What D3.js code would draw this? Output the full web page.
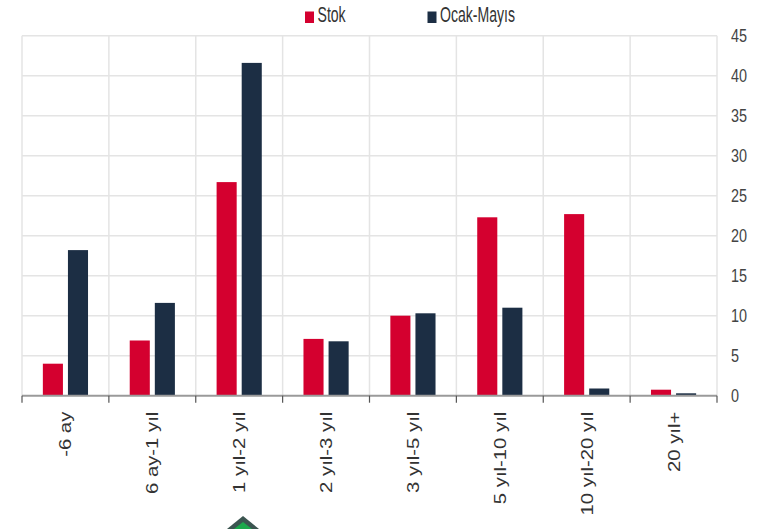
<!DOCTYPE html>
<html>
<head>
<meta charset="utf-8">
<script src="https://cdn.jsdelivr.net/npm/d3@7"></script>
<style>
  html, body { margin: 0; padding: 0; background: #fff; }
  #chart { width: 757px; height: 529px; }
</style>
</head>
<body>
<div id="chart"></div>
<script>
const categories = ["-6 ay", "6 ay-1 yıl", "1 yıl-2 yıl", "2 yıl-3 yıl", "3 yıl-5 yıl", "5 yıl-10 yıl", "10 yıl-20 yıl", "20 yıl+"];
const seriesNames = ["Stok", "Ocak-Mayıs"];
const stok = [4.0, 6.9, 26.7, 7.1, 10.0, 22.3, 22.7, 0.75];
const ocakMayis = [18.2, 11.6, 41.6, 6.8, 10.3, 11.0, 0.9, 0.3];
const yTicks = [0, 5, 10, 15, 20, 25, 30, 35, 40, 45];

const colors = { "Stok": "#d4002f", "Ocak-Mayıs": "#1c2e44" };

const width = 757, height = 529;
const margin = { top: 35.7, right: 40, bottom: 133.3, left: 22 };

const svg = d3.select("#chart")
    .append("svg")
    .attr("width", width)
    .attr("height", height)
    .style("font-family", "'Liberation Sans', Arial, sans-serif");

const x0 = d3.scaleBand()
    .domain(categories)
    .range([margin.left, width - margin.right])
    .padding(0);

const x1 = d3.scaleBand()
    .domain(seriesNames)
    .range([x0.bandwidth() * 0.24, x0.bandwidth() * 0.76])
    .paddingInner(0.2);

const y = d3.scaleLinear()
    .domain([0, 45])
    .range([height - margin.bottom, margin.top]);

// grid
const grid = svg.append("g").attr("stroke", "#e4e4e4").attr("stroke-width", 1.5);
grid.selectAll(".h")
    .data(yTicks.filter(d => d > 0))
    .join("line")
    .attr("x1", x0.range()[0])
    .attr("x2", x0.range()[1])
    .attr("y1", d => y(d))
    .attr("y2", d => y(d));
const bounds = categories.map(c => x0(c)).concat([x0.range()[1]]);
grid.selectAll(".v")
    .data(bounds)
    .join("line")
    .attr("x1", d => d)
    .attr("x2", d => d)
    .attr("y1", y(45))
    .attr("y2", y(0));

// bars
const data = categories.map((c, i) => ({ cat: c, values: [
    { key: "Stok", value: stok[i] },
    { key: "Ocak-Mayıs", value: ocakMayis[i] }
] }));

svg.append("g")
    .selectAll("g")
    .data(data)
    .join("g")
    .attr("transform", d => `translate(${x0(d.cat)},0)`)
    .selectAll("rect")
    .data(d => d.values)
    .join("rect")
    .attr("x", d => x1(d.key))
    .attr("width", x1.bandwidth())
    .attr("y", d => y(d.value))
    .attr("height", d => y(0) - y(d.value))
    .attr("fill", d => colors[d.key]);

// x axis line and ticks
const axisG = svg.append("g").attr("stroke", "#9a9a9a");
axisG.append("line")
    .attr("x1", x0.range()[0])
    .attr("x2", x0.range()[1])
    .attr("y1", y(0))
    .attr("y2", y(0))
    .attr("stroke-width", 2);
axisG.selectAll(".tick")
    .data(bounds)
    .join("line")
    .attr("x1", d => d)
    .attr("x2", d => d)
    .attr("y1", y(0))
    .attr("y2", y(0) + 7)
    .attr("stroke", "#555")
    .attr("stroke-width", 1.2);

// x labels (rotated)
svg.append("g")
    .selectAll("text")
    .data(categories)
    .join("text")
    .attr("transform", d => `translate(${x0(d) + x0.bandwidth() / 2},${y(0) + 16}) scale(0.85,1) rotate(-90)`)
    .attr("text-anchor", "end")
    .attr("dy", "0.35em")
    .attr("font-size", 20.3)
    .attr("fill", "#333")
    .text(d => d);

// right y labels
svg.append("g")
    .selectAll("text")
    .data(yTicks)
    .join("text")
    .attr("transform", d => `translate(731,${y(d)}) scale(0.8,1)`)
    .attr("dy", "0.36em")
    .attr("font-size", 18)
    .attr("fill", "#444")
    .text(d => d);

// legend
const legendX = [305, 427.5];
const legend = svg.append("g")
    .selectAll("g")
    .data(seriesNames)
    .join("g")
    .attr("transform", (d, i) => `translate(${legendX[i]},0)`);
legend.append("rect")
    .attr("x", 0)
    .attr("y", 11.5)
    .attr("width", 9)
    .attr("height", 11.5)
    .attr("fill", d => colors[d]);
legend.append("text")
    .attr("transform", "translate(12.5,22) scale(0.64,1)")
    .attr("font-size", 22)
    .attr("fill", "#333")
    .text(d => d);

// cropped marker at the bottom edge
svg.append("path")
    .attr("d", "M227,529 L243,516 L259,529 Z")
    .attr("fill", "#3b5550");
svg.append("path")
    .attr("d", "M234,529 L243,522 L252,529 Z")
    .attr("fill", "#1ba84b");
</script>
</body>
</html>
